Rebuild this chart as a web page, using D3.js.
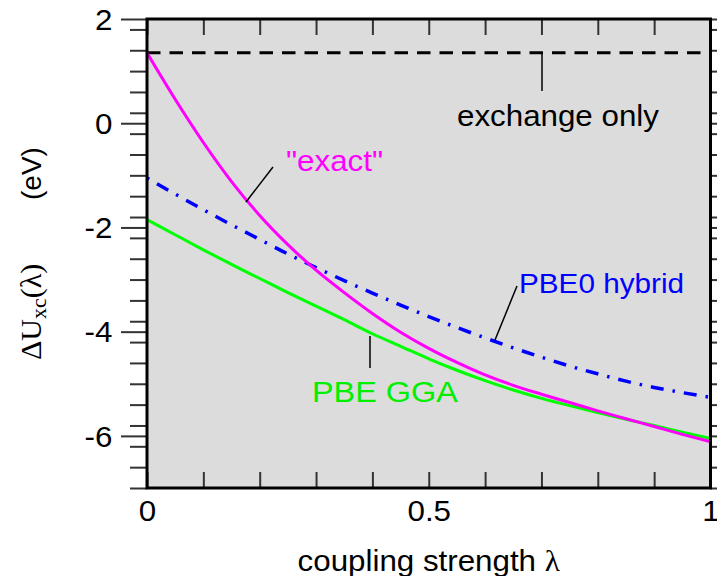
<!DOCTYPE html>
<html>

<head>
	<meta charset="utf-8">
	<style type="text/css">
		body {
			margin: 0;
			background-color: white;
		}

		text {
			font-family: "Liberation Sans", Arial, sans-serif;
		}
	</style>
	<title>Coupling strength</title>
</head>

<body>
	<div id="chart"></div>
	<script src="https://d3js.org/d3.v7.min.js"></script>
	<script>
		// values (lambda step 0.05)
		var lambdas = [0, 0.05, 0.1, 0.15, 0.2, 0.25, 0.3, 0.35, 0.4, 0.45, 0.5, 0.55, 0.6, 0.65, 0.7, 0.75, 0.8, 0.85, 0.9, 0.95, 1.0];
		var exactVals = [1.35, 0.46, -0.37, -1.12, -1.77, -2.33, -2.82, -3.25, -3.65, -4.01, -4.32, -4.59, -4.83, -5.03, -5.20, -5.36, -5.52, -5.67, -5.82, -5.97, -6.11];
		var pbe0Vals = [-1.05, -1.36, -1.66, -1.95, -2.23, -2.51, -2.77, -3.02, -3.26, -3.49, -3.71, -3.92, -4.12, -4.31, -4.49, -4.66, -4.81, -4.95, -5.07, -5.17, -5.26];
		var ggaVals = [-1.85, -2.14, -2.43, -2.71, -2.98, -3.25, -3.51, -3.77, -4.04, -4.28, -4.52, -4.74, -4.94, -5.12, -5.28, -5.42, -5.55, -5.68, -5.80, -5.93, -6.05];
		var exchangeOnly = 1.35;

		var xMajor = [0, 0.5, 1];
		var xTicks = d3.range(0, 11).map(function(i) { return i / 10; });
		var yMajor = [-6, -4, -2, 0, 2];
		var yMinor = d3.range(-35, 11, 2).map(function(i) { return i / 5; }).filter(function(v) { return yMajor.indexOf(v) < 0; });

		const W = 717,
			H = 576,
			pLeft = 147,
			pRight = 710.5,
			pTop = 19,
			pBottom = 488,
			sx = 1.08,
			fs = 29;

		const svg = d3.select("#chart").append("svg")
			.attr("width", W)
			.attr("height", H);

		const x = d3.scaleLinear().domain([0, 1]).range([pLeft, pRight]);
		const y = d3.scaleLinear().domain([-7, 2]).range([pBottom, pTop]);

		// plot background
		svg.append("rect")
			.attr("x", pLeft).attr("y", pTop)
			.attr("width", pRight - pLeft).attr("height", pBottom - pTop)
			.style("fill", "#dcdcdc");

		function styleAxis(g) {
			g.select(".domain").remove();
			g.selectAll(".tick line").style("stroke", "#333").style("stroke-width", 2);
			g.selectAll("text")
				.style("font-size", fs + "px")
				.style("font-family", "'Liberation Sans', Arial, sans-serif")
				.style("fill", "black")
				.attr("transform", "scale(" + sx + ",1)");
		}

		// y axis, left side (outside ticks)
		svg.append("g").attr("transform", "translate(" + pLeft + ",0)")
			.call(d3.axisLeft(y).tickValues(yMinor).tickSize(17).tickFormat(""))
			.call(styleAxis);
		svg.append("g").attr("transform", "translate(" + pLeft + ",0)")
			.call(d3.axisLeft(y).tickValues(yMajor).tickSize(26).tickPadding(6).tickFormat(function(d) { return String(d); }))
			.call(styleAxis)
			.selectAll("text").attr("dy", "0.35em");

		// y axis, right side
		svg.append("g").attr("transform", "translate(" + pRight + ",0)")
			.call(d3.axisRight(y).tickValues(yMinor).tickSize(17).tickFormat(""))
			.call(styleAxis);
		svg.append("g").attr("transform", "translate(" + pRight + ",0)")
			.call(d3.axisRight(y).tickValues(yMajor).tickSize(26).tickFormat(""))
			.call(styleAxis);

		// x axis bottom (inside ticks) and top
		svg.append("g").attr("transform", "translate(0," + pBottom + ")")
			.call(d3.axisBottom(x).tickValues(xTicks).tickSizeInner(-16).tickSizeOuter(0).tickPadding(12)
				.tickFormat(function(d) { return xMajor.indexOf(d) >= 0 ? String(d) : ""; }))
			.call(styleAxis);
		svg.append("g").attr("transform", "translate(0," + pTop + ")")
			.call(d3.axisTop(x).tickValues(xTicks).tickSizeInner(-16).tickSizeOuter(0).tickFormat(""))
			.call(styleAxis);

		// curves
		function series(vals) {
			return lambdas.map(function(l, i) { return [l, vals[i]]; });
		}
		var line = d3.line()
			.x(function(d) { return x(d[0]); })
			.y(function(d) { return y(d[1]); })
			.curve(d3.curveMonotoneX);

		const curves = svg.append("g");
		curves.append("path")
			.attr("d", line([[0, exchangeOnly], [1, exchangeOnly]]))
			.style("fill", "none").style("stroke", "black")
			.style("stroke-width", 3).style("stroke-dasharray", "13.5,9");
		curves.append("path")
			.attr("d", line(series(ggaVals)))
			.style("fill", "none").style("stroke", "#00ff00").style("stroke-width", 3);
		curves.append("path")
			.attr("d", line(series(pbe0Vals)))
			.style("fill", "none").style("stroke", "#0000ff")
			.style("stroke-width", 3.5).style("stroke-dasharray", "2.5,9,13,9");
		curves.append("path")
			.attr("d", line(series(exactVals)))
			.style("fill", "none").style("stroke", "#ff00ff").style("stroke-width", 3);

		// frame
		svg.append("rect")
			.attr("x", pLeft).attr("y", pTop)
			.attr("width", pRight - pLeft).attr("height", pBottom - pTop)
			.style("fill", "none").style("stroke", "black").style("stroke-width", 3);

		// annotations: pointer line + label
		function pointer(x1, y1, x2, y2) {
			svg.append("line")
				.attr("x1", x1).attr("y1", y1).attr("x2", x2).attr("y2", y2)
				.style("stroke", "black").style("stroke-width", 1.5);
		}

		function label(px, py, txt, color, size) {
			return svg.append("text")
				.attr("transform", "translate(" + px + "," + py + ") scale(" + sx + ",1)")
				.style("font-size", (size || fs) + "px")
				.style("fill", color)
				.text(txt);
		}

		pointer(542, 53, 542, 91);
		label(457, 126, "exchange only", "black");
		pointer(273, 167, 246, 202);
		label(286, 171, "\"exact\"", "#ff00ff");
		pointer(517, 286, 495, 340);
		label(519, 293, "PBE0 hybrid", "#0000ff", 27.5);
		pointer(370, 336, 370, 368);
		label(312, 402, "PBE GGA", "#00ee00", 30);

		// x label
		var xl = svg.append("text")
			.attr("transform", "translate(" + (pLeft + pRight) / 2 + ",571) scale(" + sx + ",1)")
			.attr("text-anchor", "middle")
			.style("font-size", fs + "px");
		xl.append("tspan").text("coupling strength ");
		xl.append("tspan").style("font-family", "'Liberation Serif', serif").text("λ");

		// y label (rotated)
		var yl = svg.append("g").attr("transform", "translate(41,360) rotate(-90)");
		var yt = yl.append("text")
			.style("font-family", "'Liberation Serif', serif")
			.style("font-size", "30px");
		yt.append("tspan").text("ΔU");
		yt.append("tspan").attr("dy", 5).style("font-size", "22px").text("xc");
		yt.append("tspan").attr("dy", -5).text("(λ)");
		yl.append("text")
			.attr("x", 160)
			.style("font-size", "28px")
			.text("(eV)");
	</script>
</body>

</html>
